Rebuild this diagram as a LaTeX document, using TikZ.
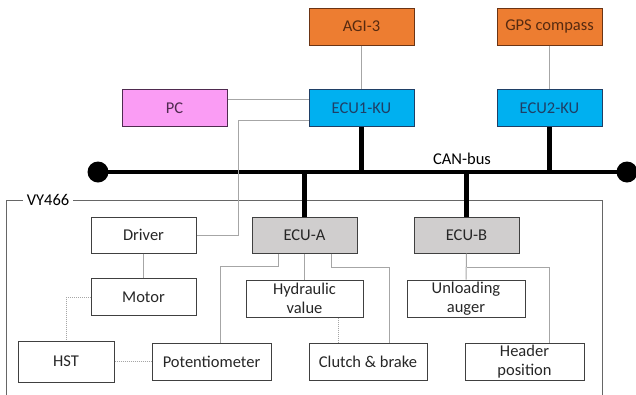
\documentclass[tikz,border=0pt]{standalone}
\usepackage{fontspec}
\setmainfont{Carlito}
\usepackage{xcolor}
\usetikzlibrary{positioning}
\definecolor{sensororange}{HTML}{ED7D31}
\definecolor{sensorborder}{HTML}{6B3414}
\definecolor{kublue}{HTML}{00B0F0}
\definecolor{kuborder}{HTML}{1F3F66}
\definecolor{pcpink}{HTML}{FA9CF4}
\definecolor{pcborder}{HTML}{4F2A4F}
\definecolor{ecugray}{HTML}{D0CECE}
\definecolor{wiregray}{HTML}{A6A6A6}
\definecolor{boxline}{HTML}{404040}

\begin{document}
\begin{tikzpicture}[
  x=1pt,y=-1pt,
  box/.style={draw=boxline,line width=1pt,minimum width=105pt,minimum height=37pt,
    inner sep=1pt,align=center,text=black!85},
  sensor/.style={box,fill=sensororange,draw=sensorborder,text=sensorborder!80!black},
  ku/.style={box,fill=kublue,draw=kuborder,text=kuborder},
  pcbox/.style={box,fill=pcpink,draw=pcborder,text=pcborder},
  ecu/.style={box,fill=ecugray},
  wire/.style={wiregray,line width=1pt},
  link/.style={wiregray,line width=1pt,densely dotted},
  bus/.style={black,line width=4.5pt},
  every node/.style={font=\fontsize{16.5}{19.5}\selectfont}
]
  \useasboundingbox (0,0) rectangle (636,394);

  % top units
  \node[sensor] (agi) at (361.5,26.5) {AGI-3};
  \node[sensor] (gps) at (549.5,26.5) {GPS compass};
  \node[ku] (ecuone) at (361.5,108) {ECU1-KU};
  \node[ku] (ecutwo) at (549.5,108) {ECU2-KU};
  \node[pcbox] (pc) at (174.5,108) {PC};

  % CAN-bus
  \coordinate (busL) at (98,172);
  \coordinate (busR) at (627,172);
  \draw[bus] (busL) -- (busR);
  \fill (busL) circle (10.5);
  \fill (busR) circle (10.5);
  \node (can) at (462,159) {CAN-bus};

  % VY466 frame
  \draw[boxline!80,line width=1pt] (6,400) -- (6,200) -- (602,200) -- (602,400);
  \node[fill=white,inner sep=4pt] (vy) at (48,200) {VY466};

  % machine units
  \node[box,minimum height=36pt] (driver) at (143.5,235) {Driver};
  \node[ecu,minimum height=36pt] (ecua) at (304.5,235) {ECU-A};
  \node[ecu,minimum height=36pt] (ecub) at (466.5,235) {ECU-B};
  \node[box] (motor) at (143.5,297) {Motor};
  \node[box,minimum width=117pt] (hyd) at (304.5,298.5) {Hydraulic\\value};
  \node[box,minimum width=118pt] (unload) at (466,298.5) {Unloading\\auger};
  \node[box,minimum width=96pt,minimum height=41pt] (hst) at (66,361.5) {HST};
  \node[box,minimum width=119pt] (pot) at (211.5,361.5) {Potentiometer};
  \node[box,minimum width=118pt] (clutch) at (368,361.5) {Clutch \& brake};
  \node[box,minimum width=119pt] (header) at (524.5,361.5) {Header\\position};

  % thin wires
  \draw[wire] (agi) -- (ecuone);
  \draw[wire] (gps) -- (ecutwo);
  \draw[wire] ([yshift=9pt]pc.east) -- ([yshift=9pt]pc.east -| ecuone.west);
  \draw[wire] ([yshift=-12pt]ecuone.west) -- ++(-70,0) |- (driver.east);
  \draw[wire] (driver) -- (motor);
  \draw[wire] ([xshift=-26.5pt]ecua.south) -- ++(0,13) -| ([xshift=8.5pt]pot.north);
  \draw[wire] (ecua.south) -- (hyd.north);
  \draw[wire] ([xshift=26.5pt]ecua.south) -- ++(0,14) -| ([xshift=21pt]clutch.north);
  \draw[wire] (ecub.south) -- (unload.north);
  \draw[wire] ([yshift=-14pt]ecub.south) -| ([xshift=24.5pt]header.north);

  % dotted links
  \draw[link] (motor.west) -| (hst.north);
  \draw[link] (hst) -- (pot);
  \draw[link] ([xshift=33.5pt]hyd.south) -- ([xshift=33.5pt]hyd.south |- clutch.north);

  % bus drops
  \draw[bus] (ecuone.south) -- (ecuone.south |- busL);
  \draw[bus] (ecutwo.south) -- (ecutwo.south |- busL);
  \draw[bus] (ecua.north) -- (ecua.north |- busL);
  \draw[bus] (ecub.north) -- (ecub.north |- busL);
\end{tikzpicture}
\end{document}
